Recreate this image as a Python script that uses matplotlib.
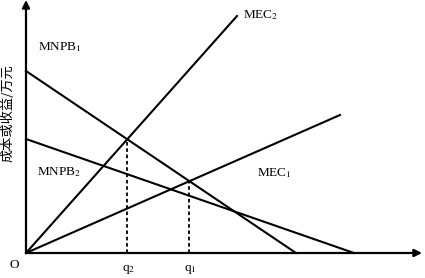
import matplotlib
matplotlib.use('Agg')
import matplotlib.pyplot as plt

plt.rcParams['font.family'] = ['Liberation Serif', 'DejaVu Serif']
plt.rcParams['mathtext.fontset'] = 'stix'

# 数据 (以原点为 0, 单位取自图面)
mnpb1 = [182, 270]      # 纵截距, 横截距
mnpb2 = [114, 328]
mec2_end = [211, 237]   # 终点 x, y
mec1_end = [314, 138]
x_axis_len = 396
y_axis_len = 253

labels = ['MNPB$_1$', 'MNPB$_2$', 'MEC$_2$', 'MEC$_1$']
label_pos = [(12, 206), (11, 81), (217, 238), (231, 80)]
ylabel = '成本或收益/万元'


def cross(mec, mnpb):
    # MEC 与 MNPB 的交点
    k = mec[1] / mec[0]
    b0, a0 = mnpb
    x = b0 / (k + b0 / a0)
    return x, k * x


fig = plt.figure(figsize=(4.25, 2.78), dpi=100)
ax = fig.add_axes([0, 0, 1, 1])
ax.set_xlim(-26, 399)
ax.set_ylim(-25, 253)
ax.axis('off')

lw = 1.5
ax.plot([0, mnpb1[1]], [mnpb1[0], 0], color='black', lw=lw)
ax.plot([0, mnpb2[1]], [mnpb2[0], 0], color='black', lw=lw)
ax.plot([0, mec2_end[0]], [0, mec2_end[1]], color='black', lw=lw)
ax.plot([0, mec1_end[0]], [0, mec1_end[1]], color='black', lw=lw)

# 坐标轴箭头
arr = dict(arrowstyle='-|>', mutation_scale=11, lw=1.6, color='black',
           shrinkA=0, shrinkB=0)
ax.annotate('', xy=(0, y_axis_len), xytext=(0, 0), arrowprops=arr)
ax.annotate('', xy=(x_axis_len, 0), xytext=(0, 0), arrowprops=arr)

# q1, q2 虚线
q2 = cross(mec2_end, mnpb1)
q1 = cross(mec1_end, mnpb1)
for q, name in [(q2, 'q$_2$'), (q1, 'q$_1$')]:
    ax.plot([q[0], q[0]], [0, q[1]], color='black', lw=1.3, ls=(0, (2, 1.5)))
    ax.text(q[0] + 1, -16, name, ha='center', va='center', fontsize=9.5)

for t, (x, y) in zip(labels, label_pos):
    ax.text(x, y, t, ha='left', va='center', fontsize=9.5)

ax.text(-12, -12, 'O', ha='center', va='center', fontsize=9.5)
ax.text(-18, 140, ylabel, rotation=90, ha='center', va='center',
        fontsize=9.5, family=['Noto Sans CJK SC', 'DejaVu Sans'])

fig.savefig('out.png', dpi=100)
